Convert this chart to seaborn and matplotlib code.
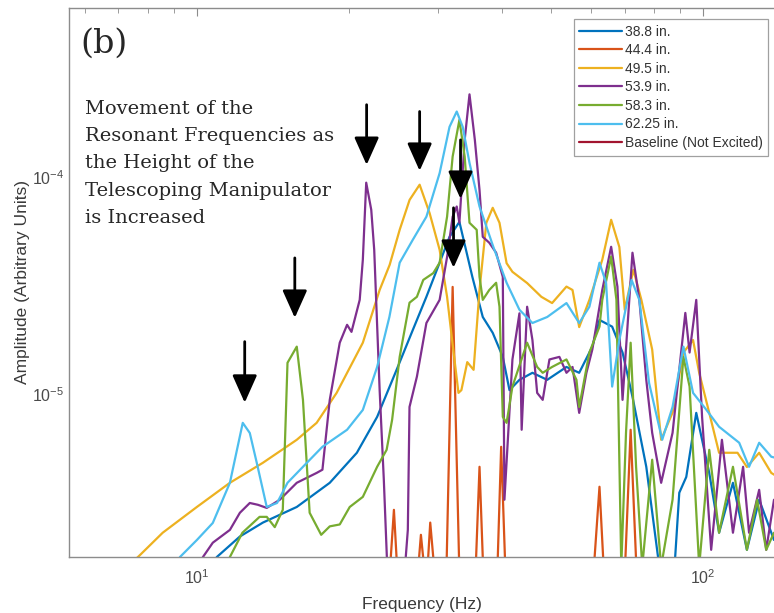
import numpy as np
import pandas as pd
import matplotlib
matplotlib.use("Agg")
import matplotlib.pyplot as plt
from matplotlib.lines import Line2D
from matplotlib.patches import ArrowStyle
import seaborn as sns

# ---------------- data (frequency Hz, amplitude) ----------------
labels = ["38.8 in.", "44.4 in.", "49.5 in.", "53.9 in.", "58.3 in.", "62.25 in.",
          "Baseline (Not Excited)"]
colors = ["#0072BD", "#D95319", "#EDB120", "#7E2F8E", "#77AC30", "#4DBEEE", "#A2142F"]

s388 = [(10.4, 1.47e-6), (10.95, 1.77e-6), (12.16, 2.20e-6), (13.5, 2.55e-6), (15.75, 3.01e-6),
        (18.3, 3.89e-6), (20.7, 5.35e-6), (22.7, 7.83e-6), (24.8, 1.29e-5), (26.7, 1.97e-5),
        (28.4, 2.80e-5), (30.16, 4.02e-5), (31.55, 5.29e-5), (33.0, 6.2e-5), (34.0, 4.61e-5),
        (35.0, 3.46e-5), (36.7, 2.26e-5), (38.4, 1.91e-5), (40.2, 1.48e-5), (41.44, 1.04e-5),
        (43.36, 1.16e-5), (46.0, 1.25e-5), (49.2, 1.16e-5), (53.7, 1.33e-5), (56.9, 1.25e-5),
        (60.4, 1.65e-5), (62.4, 2.19e-5), (66.1, 2.04e-5), (69.3, 1.55e-5), (72.5, 9.7e-6),
        (77.2, 4.61e-6), (81.9, 1.6e-6), (87.8, 1.6e-6), (89.7, 3.5e-6), (92.6, 4.14e-6),
        (96.9, 8.17e-6), (102.8, 4.32e-6), (107.5, 2.29e-6), (114.5, 3.89e-6), (122.0, 1.91e-6),
        (129.0, 3.25e-6), (138.0, 2.12e-6)]

s444 = [(22.96, 1.47e-6), (24.03, 1.47e-6), (24.5, 2.92e-6), (24.9, 1.47e-6), (27.3, 1.47e-6),
        (27.7, 2.24e-6), (28.2, 1.47e-6), (28.5, 1.47e-6), (28.9, 2.55e-6), (29.5, 1.47e-6),
        (31.1, 1.47e-6), (32.0, 3.11e-5), (33.0, 1.47e-6), (35.5, 1.47e-6), (36.16, 4.61e-6),
        (36.8, 1.47e-6), (39.2, 1.47e-6), (39.9, 5.70e-6), (40.7, 1.47e-6), (60.7, 1.47e-6),
        (62.4, 3.73e-6), (63.7, 1.47e-6), (70.0, 1.47e-6), (71.9, 6.83e-6), (73.9, 1.47e-6),
        (98.2, 1.47e-6)]

s495 = [(7.31, 1.62e-6), (7.65, 1.77e-6), (8.56, 2.29e-6), (10.0, 3.01e-6), (11.62, 3.89e-6),
        (13.5, 4.81e-6), (15.75, 6.14e-6), (17.24, 7.35e-6), (18.88, 1.01e-5), (21.27, 1.72e-5),
        (22.96, 3.01e-5), (24.03, 3.93e-5), (25.15, 5.7e-5), (26.31, 7.83e-5), (27.54, 9.2e-5),
        (28.82, 6.8e-5), (30.16, 4.61e-5), (31.2, 2.8e-5), (31.97, 1.72e-5), (32.86, 1.01e-5),
        (33.3, 1.04e-5), (34.2, 1.40e-5), (35.2, 1.29e-5), (36.16, 3.01e-5), (37.3, 6.14e-5),
        (38.4, 7.2e-5), (39.6, 6.14e-5), (40.9, 4.0e-5), (42.0, 3.65e-5), (44.9, 3.24e-5),
        (47.9, 2.80e-5), (50.3, 2.62e-5), (53.7, 3.12e-5), (55.2, 3.01e-5), (56.9, 2.03e-5),
        (59.6, 2.71e-5), (63.2, 4.15e-5), (65.8, 6.34e-5), (68.3, 4.75e-5), (70.0, 2.44e-5),
        (72.8, 3.73e-5), (75.5, 2.71e-5), (79.3, 1.60e-5), (82.6, 6.14e-6), (87.0, 8.2e-6),
        (91.4, 1.55e-5), (95.5, 1.77e-5), (98.2, 1.25e-5), (102.8, 8.17e-6), (107.5, 5.35e-6),
        (116.9, 5.35e-6), (122.0, 4.6e-6), (129.0, 5.35e-6), (136.3, 4.32e-6), (143.8, 4.0e-6)]

s539 = [(9.91, 1.47e-6), (10.28, 1.77e-6), (10.75, 2.06e-6), (11.62, 2.36e-6), (12.16, 2.83e-6),
        (12.72, 3.14e-6), (13.2, 3.08e-6), (13.74, 2.98e-6), (14.58, 3.25e-6), (15.75, 3.89e-6),
        (17.24, 4.32e-6), (17.7, 4.47e-6), (18.3, 9.38e-6), (19.15, 1.72e-5), (19.8, 2.08e-5),
        (20.2, 1.93e-5), (20.97, 2.71e-5), (21.27, 4.15e-5), (21.6, 9.4e-5), (22.1, 7.05e-5),
        (22.4, 4.61e-5), (22.96, 1.04e-5), (23.4, 4.02e-6), (23.8, 1.47e-6), (25.7, 1.47e-6),
        (26.1, 2.36e-6), (26.3, 8.7e-6), (27.2, 1.2e-5), (28.4, 2.12e-5), (30.16, 2.71e-5),
        (31.2, 4.27e-5), (32.0, 6.55e-5), (32.6, 7.3e-5), (33.0, 6.14e-5), (33.8, 1.48e-4),
        (34.55, 2.4e-4), (35.4, 1.48e-4), (36.16, 8.7e-5), (36.7, 5.29e-5), (37.8, 4.97e-5),
        (39.0, 4.47e-5), (40.2, 3.46e-5), (40.5, 3.25e-6), (42.0, 1.44e-5), (43.36, 2.35e-5),
        (43.8, 6.83e-6), (44.9, 2.52e-5), (46.0, 1.77e-5), (47.0, 1.01e-5), (48.2, 9.38e-6),
        (49.7, 1.44e-5), (52.0, 1.48e-5), (53.7, 1.25e-5), (55.2, 1.33e-5), (56.9, 8.17e-6),
        (58.8, 1.25e-5), (60.4, 1.60e-5), (63.2, 3.01e-5), (65.8, 4.76e-5), (67.7, 3.12e-5),
        (69.3, 9.38e-6), (72.5, 4.47e-5), (74.8, 2.71e-5), (77.2, 1.16e-5), (79.3, 6.61e-6),
        (82.6, 3.89e-6), (87.0, 6.61e-6), (92.2, 2.36e-5), (94.0, 1.55e-5), (96.9, 2.71e-5),
        (99.5, 7.83e-6), (103.7, 1.91e-6), (108.9, 6.14e-6), (114.5, 2.29e-6), (119.9, 4.61e-6),
        (123.2, 2.29e-6), (129.0, 3.61e-6), (133.2, 1.91e-6), (138.0, 3.25e-6)]

s583 = [(11.2, 1.47e-6), (11.62, 1.77e-6), (12.3, 2.29e-6), (13.3, 2.71e-6), (13.74, 2.71e-6),
        (14.25, 2.43e-6), (14.78, 2.92e-6), (15.1, 1.39e-5), (15.75, 1.65e-5), (16.2, 9.38e-6),
        (16.7, 2.83e-6), (17.6, 2.24e-6), (18.3, 2.45e-6), (19.15, 2.5e-6), (20.04, 3.01e-6),
        (21.27, 3.35e-6), (22.7, 4.61e-6), (23.7, 5.52e-6), (24.3, 7.59e-6), (25.15, 1.48e-5),
        (26.3, 2.63e-5), (27.2, 2.80e-5), (28.0, 3.35e-5), (29.3, 3.60e-5), (30.16, 4.02e-5),
        (31.2, 6.55e-5), (32.0, 1.24e-4), (33.0, 1.83e-4), (33.8, 1.24e-4), (34.55, 6.14e-5),
        (35.7, 5.70e-5), (36.16, 3.46e-5), (36.7, 2.71e-5), (37.8, 3.01e-5), (39.0, 3.25e-5),
        (39.6, 2.52e-5), (40.2, 7.83e-6), (40.9, 7.35e-6), (42.0, 1.08e-5), (44.9, 1.72e-5),
        (47.0, 1.33e-5), (48.2, 1.25e-5), (50.3, 1.33e-5), (53.7, 1.44e-5), (56.2, 1.16e-5),
        (56.9, 8.7e-6), (59.6, 1.55e-5), (62.4, 2.04e-5), (63.2, 2.71e-5), (65.8, 4.29e-5),
        (67.4, 2.71e-5), (68.9, 1.6e-6), (70.4, 6.61e-6), (71.9, 1.72e-5), (73.7, 4.61e-6),
        (75.8, 1.6e-6), (79.3, 4.97e-6), (82.6, 1.6e-6), (87.0, 3.25e-6), (91.4, 1.48e-5),
        (94.0, 1.08e-5), (98.2, 1.6e-6), (102.8, 5.52e-6), (107.5, 2.29e-6), (114.5, 4.61e-6),
        (122.0, 1.91e-6), (127.8, 3.25e-6), (133.2, 1.91e-6), (138.0, 2.29e-6)]

s6225 = [(8.85, 1.47e-6), (9.26, 1.77e-6), (10.0, 2.12e-6), (10.75, 2.54e-6), (11.62, 3.89e-6),
         (12.0, 5.52e-6), (12.32, 7.35e-6), (12.72, 6.6e-6), (13.13, 4.81e-6), (13.74, 3.01e-6),
         (14.4, 3.14e-6), (15.1, 3.89e-6), (16.2, 4.61e-6), (17.7, 5.7e-6), (19.8, 6.83e-6),
         (21.27, 8.43e-6), (22.7, 1.33e-5), (24.0, 2.26e-5), (25.15, 4.02e-5), (26.7, 5.13e-5),
         (28.4, 6.55e-5), (30.16, 1.04e-4), (31.55, 1.70e-4), (32.6, 2.0e-4), (33.5, 1.70e-4),
         (34.55, 1.16e-4), (36.16, 7.3e-5), (38.5, 4.76e-5), (40.9, 3.25e-5), (43.36, 2.44e-5),
         (46.0, 2.12e-5), (49.2, 2.26e-5), (53.7, 2.62e-5), (56.9, 2.12e-5), (59.6, 2.52e-5),
         (62.4, 4.02e-5), (64.3, 3.25e-5), (66.1, 1.08e-5), (68.3, 1.77e-5), (72.2, 3.35e-5),
         (74.8, 2.71e-5), (78.2, 1.12e-5), (83.0, 6.14e-6), (87.0, 8.7e-6), (91.4, 1.65e-5),
         (95.5, 1.01e-5), (101.5, 8.43e-6), (107.5, 7.05e-6), (117.8, 5.95e-6), (123.2, 4.61e-6),
         (129.0, 5.95e-6), (136.3, 5.13e-6), (143.8, 4.97e-6)]

s_base = [(6.0, 1.0e-6), (20.0, 1.1e-6), (60.0, 1.0e-6), (140.0, 1.05e-6)]

series = [s388, s444, s495, s539, s583, s6225, s_base]

# arrows marking resonant peaks: (freq, tip amplitude, tail amplitude)
arrows = [(12.43, 9.1e-6, 1.74e-5), (15.61, 2.24e-5, 4.23e-5), (21.64, 1.135e-4, 2.15e-4),
          (27.54, 1.066e-4, 2.0e-4), (33.17, 7.92e-5, 1.48e-4), (32.13, 3.81e-5, 7.2e-5)]

xlim = (5.59, 138.0)
ylim = (1.77e-6, 6.0e-4)

rows = []
for lab, s in zip(labels, series):
    for f, a in s:
        rows.append((lab, f, a))
df = pd.DataFrame(rows, columns=["series", "freq", "amp"])

# ---------------- plot ----------------
sns.set_style("white")
plt.rcParams["font.family"] = ["Liberation Sans", "DejaVu Sans"]

fig = plt.figure(figsize=(7.74, 6.13), dpi=100)
ax = fig.add_axes([69 / 774, 56 / 613, (774 - 69) / 774, (557 - 8) / 613])

sns.lineplot(data=df, x="freq", y="amp", hue="series", hue_order=labels,
             palette=dict(zip(labels, colors)), sort=False, estimator=None,
             linewidth=1.6, legend=False, ax=ax)

ax.set_xscale("log")
ax.set_yscale("log")
ax.set_xlim(*xlim)
ax.set_ylim(*ylim)

grey = "#8c8c8c"
for side in ["left", "bottom", "top"]:
    ax.spines[side].set_color(grey)
    ax.spines[side].set_linewidth(1.0)
ax.spines["right"].set_visible(False)
ax.tick_params(which="both", direction="in", top=True, right=False, color=grey,
               labelcolor="#4a4a4a", labelsize=11.5)
ax.tick_params(which="major", length=6)
ax.tick_params(which="minor", length=3.5)
ax.tick_params(axis="x", which="major", pad=8)

ax.set_xlabel("Frequency (Hz)", fontsize=12.5, color="#3a3a3a", labelpad=7)
ax.set_ylabel("Amplitude (Arbitrary Units)", fontsize=12.5, color="#3a3a3a", labelpad=1)

handles = [Line2D([0], [0], color=c, lw=1.6) for c in colors]
leg = ax.legend(handles, labels, loc="upper right",
                bbox_to_anchor=(768 / 774, 1 - 19 / 613), bbox_transform=fig.transFigure,
                fontsize=10, frameon=True, fancybox=False, edgecolor="#a0a0a0",
                framealpha=1, handlelength=3.05, handletextpad=0.2, labelspacing=0.33,
                borderpad=0.4, borderaxespad=0)
leg.get_frame().set_linewidth(0.9)
for t in leg.get_texts():
    t.set_color("#333333")

for f, tip, tail in arrows:
    ax.annotate("", xy=(f, tip), xytext=(f, tail),
                arrowprops=dict(arrowstyle=ArrowStyle("-|>", head_length=0.85, head_width=0.38),
                                mutation_scale=20, color="black", lw=2,
                                shrinkA=0, shrinkB=0))

fig.text(80 / 774, 1 - 28 / 613, "(b)", fontsize=24, family="DejaVu Serif", va="top", ha="left")
fig.text(85 / 774, 1 - 100 / 613,
         "Movement of the\nResonant Frequencies as\nthe Height of the\nTelescoping Manipulator\nis Increased",
         fontsize=14, family="DejaVu Serif", va="top", ha="left", linespacing=1.66)

fig.savefig("out.png", dpi=100)
